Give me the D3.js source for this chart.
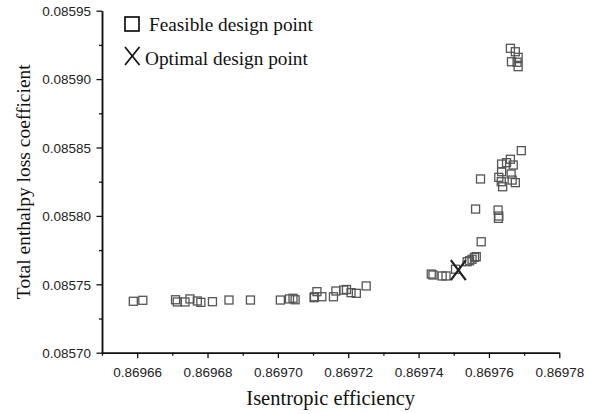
<!DOCTYPE html>
<html><head><meta charset="utf-8">
<script src="https://cdn.jsdelivr.net/npm/d3@7"></script>
<style>html,body{margin:0;padding:0;background:#fff;}</style>
</head><body>
<svg id="c" width="593" height="414"></svg>
<script>
// Feasible design points: isentropic efficiency (x) and total enthalpy loss coefficient (y)
const feasibleX = [
  0.8696589, 0.8696616, 0.8696709, 0.8696714, 0.8696736, 0.8696750, 0.8696771, 0.8696781,
  0.8696814, 0.8696861, 0.8696922, 0.8697007, 0.8697033, 0.8697043, 0.8697049, 0.8697104,
  0.8697111, 0.8697125, 0.8697103, 0.8697158, 0.8697165, 0.8697187, 0.8697195, 0.8697208,
  0.8697223, 0.8697251,
  0.8697436, 0.8697441, 0.8697467, 0.8697478, 0.8697505, 0.8697538, 0.8697545, 0.8697552,
  0.8697559, 0.8697564, 0.8697578,
  0.8697562, 0.8697576, 0.8697626, 0.8697628, 0.8697627, 0.8697628, 0.8697635, 0.8697636,
  0.8697636, 0.8697639, 0.8697650, 0.8697661, 0.8697663, 0.8697666, 0.8697669, 0.8697675,
  0.8697692,
  0.8697661, 0.8697675, 0.8697683, 0.8697664, 0.8697680, 0.8697683
];
const feasibleY = [
  0.0857376, 0.0857383, 0.0857387, 0.0857371, 0.0857371, 0.0857393, 0.0857378, 0.0857368,
  0.0857373, 0.0857385, 0.0857385, 0.0857385, 0.0857393, 0.0857398, 0.0857387, 0.0857409,
  0.0857446, 0.0857409, 0.0857402, 0.0857409, 0.0857451, 0.0857458, 0.0857462, 0.0857439,
  0.0857434, 0.0857488,
  0.0857575, 0.0857568, 0.0857561, 0.0857561, 0.0857610, 0.0857665, 0.0857672, 0.0857683,
  0.0857697, 0.0857702, 0.0857811,
  0.0858050, 0.0858270, 0.0858043, 0.0857999, 0.0857982, 0.0858282, 0.0858250, 0.0858379,
  0.0858323, 0.0858213, 0.0858389, 0.0858414, 0.0858306, 0.0858262, 0.0858372, 0.0858243,
  0.0858477,
  0.0859225, 0.0859200, 0.0859159, 0.0859127, 0.0859123, 0.0859091
];
const optimalX = [0.8697513];
const optimalY = [0.0857604];

const xTicks = [0.86966, 0.86968, 0.86970, 0.86972, 0.86974, 0.86976, 0.86978];
const xMinor = [0.86965, 0.86967, 0.86969, 0.86971, 0.86973, 0.86975, 0.86977];
const yTicks = [0.08570, 0.08575, 0.08580, 0.08585, 0.08590, 0.08595];
const yMinor = [0.085725, 0.085775, 0.085825, 0.085875, 0.085925];
const legendLabels = ["Feasible design point", "Optimal design point"];
const xTitle = "Isentropic efficiency";
const yTitle = "Total enthalpy loss coefficient";

const svg = d3.select("#c");
const L = 102, R = 559.3, T = 10.7, B = 352.7;
const x = d3.scaleLinear().domain([0.86965, 0.86978]).range([L, R]);
const y = d3.scaleLinear().domain([0.08570, 0.08595]).range([B, T]);

// axes
const xAxis = svg.append("g").attr("transform", `translate(0,${B})`)
  .call(d3.axisBottom(x).tickValues(xTicks).tickFormat(d3.format(".5f")).tickSize(5.5).tickSizeOuter(0));
const xAxisMinor = svg.append("g").attr("transform", `translate(0,${B})`)
  .call(d3.axisBottom(x).tickValues(xMinor).tickFormat("").tickSize(3).tickSizeOuter(0));
const yAxis = svg.append("g").attr("transform", `translate(${L},0)`)
  .call(d3.axisLeft(y).tickValues(yTicks).tickFormat(d3.format(".5f")).tickSize(5.5).tickSizeOuter(0));
const yAxisMinor = svg.append("g").attr("transform", `translate(${L},0)`)
  .call(d3.axisLeft(y).tickValues(yMinor).tickFormat("").tickSize(3).tickSizeOuter(0));

[xAxis, xAxisMinor, yAxis, yAxisMinor].forEach(g => {
  g.selectAll("path.domain").attr("stroke", "#111").attr("stroke-width", 1.5);
  g.selectAll(".tick line").attr("stroke", "#111").attr("stroke-width", 1.3);
  g.selectAll(".tick text").attr("font-family", "'Liberation Sans', Arial, sans-serif")
    .attr("font-size", 13.5).attr("fill", "#222");
});
xAxis.selectAll(".tick text").attr("dy", "1.15em");
yAxis.selectAll(".tick text").attr("x", -11).attr("dy", "0.35em");

// titles
svg.append("text").attr("x", (L + R) / 2).attr("y", 405)
  .attr("text-anchor", "middle").attr("font-family", "'Liberation Serif', 'Times New Roman', serif")
  .attr("font-size", 20.5).attr("fill", "#111").text(xTitle);
svg.append("text").attr("transform", `translate(30,${(T + B) / 2}) rotate(-90)`)
  .attr("text-anchor", "middle").attr("font-family", "'Liberation Serif', 'Times New Roman', serif")
  .attr("font-size", 19.5).attr("fill", "#111").text(yTitle);

// feasible points
const pts = feasibleX.map((v, i) => ({x: v, y: feasibleY[i]}));
const s = 8;
svg.append("g").selectAll("rect").data(pts).join("rect")
  .attr("x", d => x(d.x) - s / 2).attr("y", d => y(d.y) - s / 2)
  .attr("width", s).attr("height", s)
  .attr("fill", "none").attr("stroke", "#555").attr("stroke-width", 1.3);

// optimal point
const opt = optimalX.map((v, i) => ({x: v, y: optimalY[i]}));
const og = svg.append("g").selectAll("g").data(opt).join("g")
  .attr("transform", d => `translate(${x(d.x)},${y(d.y)})`);
og.append("line").attr("x1", -7.5).attr("y1", -10).attr("x2", 7.5).attr("y2", 10)
  .attr("stroke", "#222").attr("stroke-width", 2.2);
og.append("line").attr("x1", 7.5).attr("y1", -10).attr("x2", -7.5).attr("y2", 10)
  .attr("stroke", "#222").attr("stroke-width", 2.2);

// legend
const lg = svg.append("g");
lg.append("rect").attr("x", 125).attr("y", 17).attr("width", 14).attr("height", 14)
  .attr("fill", "none").attr("stroke", "#111").attr("stroke-width", 1.7);
lg.append("text").attr("x", 149).attr("y", 30.5)
  .attr("font-family", "'Liberation Serif', 'Times New Roman', serif")
  .attr("font-size", 19.3).attr("fill", "#111").text(legendLabels[0]);
lg.append("line").attr("x1", 125).attr("y1", 47).attr("x2", 139.5).attr("y2", 65)
  .attr("stroke", "#111").attr("stroke-width", 1.7);
lg.append("line").attr("x1", 139.5).attr("y1", 47).attr("x2", 125).attr("y2", 65)
  .attr("stroke", "#111").attr("stroke-width", 1.7);
lg.append("text").attr("x", 145).attr("y", 64.5)
  .attr("font-family", "'Liberation Serif', 'Times New Roman', serif")
  .attr("font-size", 19.3).attr("fill", "#111").text(legendLabels[1]);
</script>
</body></html>
